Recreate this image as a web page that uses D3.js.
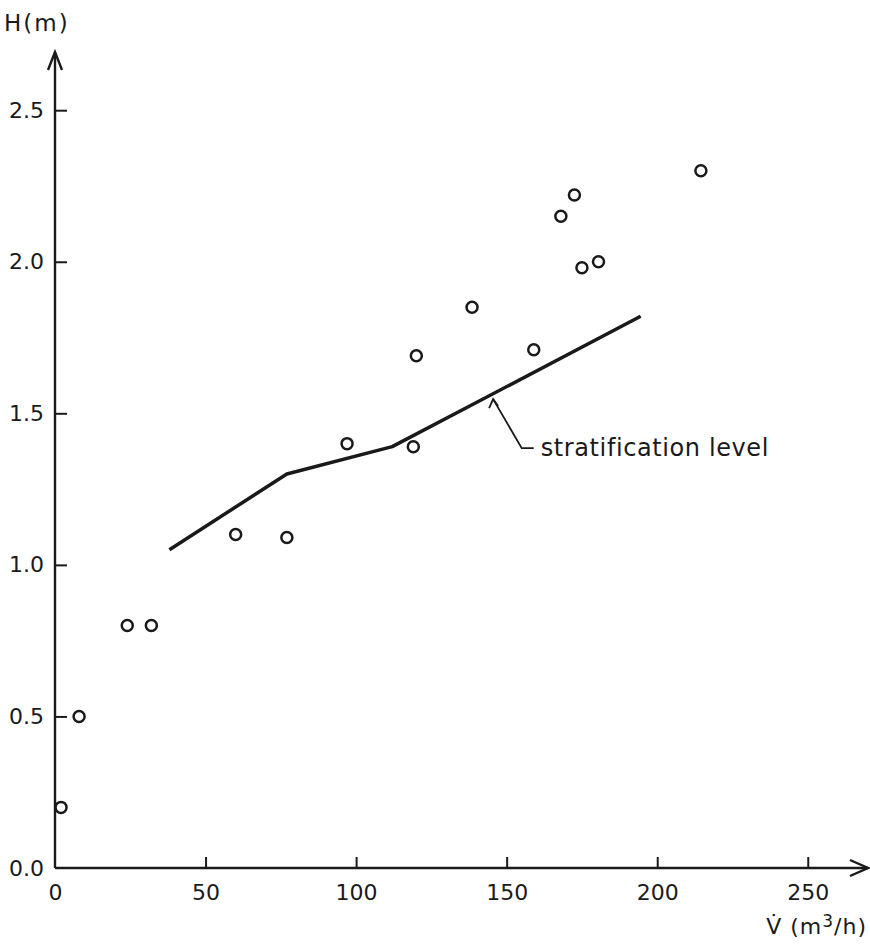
<!DOCTYPE html>
<html>
<head>
<meta charset="utf-8">
<script src="https://cdn.jsdelivr.net/npm/d3@7"></script>
<style>
    body { margin: 0; background: #fff; }
    svg text { font-family: "DejaVu Sans", sans-serif; fill: #1a1a1a; }
    .axis path { display: none; }
    .axis line { stroke: #1a1a1a; stroke-width: 2; }
    .axis text { font-size: 22px; }
</style>
</head>
<body>
<div id="chart"></div>
<script>
'use strict'
// measured points: flow rate V (m3/h), height H (m)
var pointV = [2, 8, 24, 32, 60, 77, 97, 119, 120, 138.5, 159, 168, 172.5, 175, 180.5, 214.5];
var pointH = [0.2, 0.5, 0.8, 0.8, 1.1, 1.09, 1.4, 1.39, 1.69, 1.85, 1.71, 2.15, 2.22, 1.98, 2.0, 2.3];

// stratification level curve
var levelV = [38, 77, 112, 194.5];
var levelH = [1.05, 1.3, 1.39, 1.82];

var xTicks = [0, 50, 100, 150, 200, 250];
var yTicks = [0.0, 0.5, 1.0, 1.5, 2.0, 2.5];

var _width = 870, _height = 949;
var _margins = {top: 52, left: 55, right: 2, bottom: 81};

var _xScale = d3.scaleLinear().domain([0, 270]).range([_margins.left, _width - _margins.right]);
var _yScale = d3.scaleLinear().domain([0, 2.692]).range([_height - _margins.bottom, _margins.top]);

var _svg = d3.select("#chart").append("svg")
        .attr("width", _width)
        .attr("height", _height);

var ink = "#1a1a1a";

function renderAxes() {
    var xAxis = d3.axisBottom(_xScale)
            .tickValues(xTicks)
            .tickSize(-11)
            .tickSizeOuter(0)
            .tickPadding(16);
    var xg = _svg.append("g")
            .attr("class", "x axis")
            .attr("transform", "translate(0," + _yScale(0) + ")")
            .call(xAxis);
    xg.selectAll(".tick line").filter(function (d) { return d === 0; }).remove();
    xg.selectAll(".tick text").attr("dy", "0.71em");

    var yAxis = d3.axisLeft(_yScale)
            .tickValues(yTicks)
            .tickSize(-12)
            .tickSizeOuter(0)
            .tickPadding(11)
            .tickFormat(d3.format(".1f"));
    var yg = _svg.append("g")
            .attr("class", "y axis")
            .attr("transform", "translate(" + _xScale(0) + ",0)")
            .call(yAxis);
    yg.selectAll(".tick line").filter(function (d) { return d === 0; }).remove();

    // axis lines with open arrow heads
    var x0 = _xScale(0), y0 = _yScale(0);
    var xEnd = _xScale(270), yEnd = _yScale(2.692);
    _svg.append("line")
            .attr("x1", x0).attr("y1", y0)
            .attr("x2", xEnd).attr("y2", y0)
            .attr("stroke", ink).attr("stroke-width", 2.4);
    _svg.append("line")
            .attr("x1", x0).attr("y1", y0)
            .attr("x2", x0).attr("y2", yEnd)
            .attr("stroke", ink).attr("stroke-width", 2.4);
    _svg.append("path")
            .attr("d", "M" + (xEnd - 18) + "," + (y0 - 8) + "L" + xEnd + "," + y0 + "L" + (xEnd - 18) + "," + (y0 + 8))
            .attr("fill", "none").attr("stroke", ink).attr("stroke-width", 2.4);
    _svg.append("path")
            .attr("d", "M" + (x0 - 7) + "," + (yEnd + 18) + "L" + x0 + "," + yEnd + "L" + (x0 + 7) + "," + (yEnd + 18))
            .attr("fill", "none").attr("stroke", ink).attr("stroke-width", 2.4);

    _svg.append("text")
            .attr("x", 4)
            .attr("y", 31)
            .style("font-size", "23px")
            .style("letter-spacing", "2px")
            .text("H(m)");

    var xl = _svg.append("text")
            .attr("x", 867)
            .attr("y", 934)
            .attr("text-anchor", "end")
            .style("font-size", "22px")
            .style("letter-spacing", "1px");
    xl.append("tspan").text("V\u0307 (m");
    xl.append("tspan").attr("dy", -7).style("font-size", "17px").text("3");
    xl.append("tspan").attr("dy", 7).text("/h)");
}

function renderLevel() {
    var line = d3.line()
            .x(function (d) { return _xScale(d[0]); })
            .y(function (d) { return _yScale(d[1]); });
    var pts = levelV.map(function (v, i) { return [v, levelH[i]]; });
    _svg.append("path")
            .attr("d", line(pts))
            .attr("fill", "none")
            .attr("stroke", ink)
            .attr("stroke-width", 3.5)
            .attr("stroke-linejoin", "round");

    // leader for the label
    var ax = _xScale(145.5), ay = _yScale(1.56) + 4;
    var bx = _xScale(155), by = _yScale(1.385);
    _svg.append("path")
            .attr("d", "M" + ax + "," + ay + "L" + bx + "," + by + "L" + (bx + 12) + "," + by)
            .attr("fill", "none").attr("stroke", ink).attr("stroke-width", 1.8);
    _svg.append("path")
            .attr("d", "M" + (ax - 4) + "," + (ay + 9) + "L" + ax + "," + ay + "L" + (ax + 5) + "," + (ay + 7))
            .attr("fill", "none").attr("stroke", ink).attr("stroke-width", 1.8);
    _svg.append("text")
            .attr("x", bx + 19)
            .attr("y", by + 8)
            .style("font-size", "24px")
            .style("letter-spacing", "0.6px")
            .text("stratification  level");
}

function renderPoints() {
    _svg.selectAll("circle.pt")
            .data(pointV)
            .enter()
            .append("circle")
            .attr("class", "pt")
            .attr("cx", function (d) { return _xScale(d); })
            .attr("cy", function (d, i) { return _yScale(pointH[i]); })
            .attr("r", 5.5)
            .attr("fill", "none")
            .attr("stroke", ink)
            .attr("stroke-width", 2.5);
}

renderAxes();
renderLevel();
renderPoints();
</script>
</body>
</html>
